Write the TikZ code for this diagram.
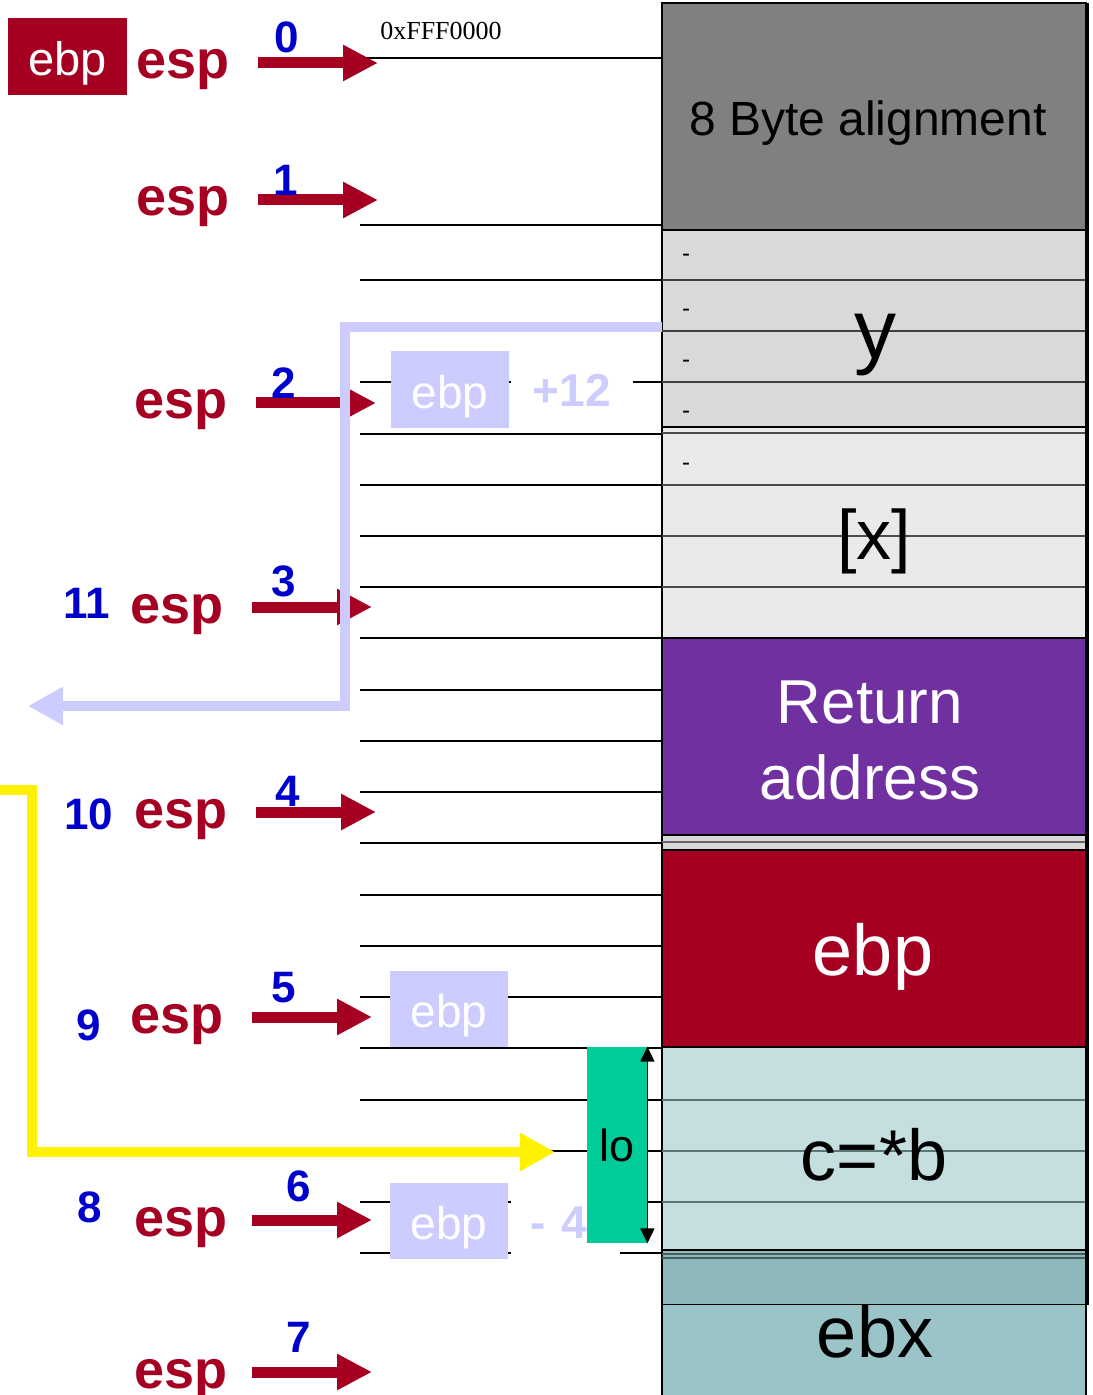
\documentclass[tikz,border=0pt]{standalone}
\usepackage{fontspec}
\setmainfont{Liberation Sans}
\newfontfamily\addrfont{Liberation Serif}
\usepackage{tikz}
\usetikzlibrary{arrows.meta}
\definecolor{espred}{HTML}{A50021}
\definecolor{numblue}{HTML}{0000CC}
\definecolor{lavender}{HTML}{CCCCFF}
\definecolor{aligngray}{HTML}{808080}
\definecolor{ygray}{HTML}{D9D9D9}
\definecolor{xgray}{HTML}{EAEAEA}
\definecolor{retpurple}{HTML}{7030A0}
\definecolor{cblue}{HTML}{C5DEE0}
\definecolor{cline}{HTML}{5A7676}
\definecolor{ebxtop}{HTML}{8FB8BC}
\definecolor{ebxblue}{HTML}{9BC4C8}
\definecolor{logreen}{HTML}{00CC99}
\newcommand{\fsz}[1]{\fontsize{#1}{#1}\selectfont}

\begin{document}
\begin{tikzpicture}[x=0.5pt,y=-0.5pt,
    esplabel/.style={font=\fsz{27}\bfseries,text=espred,anchor=base,inner sep=0pt},
    esparrow/.style={draw=espred,line width=5.5pt,-{Triangle[length=17.5pt,width=17pt]}},
    stepnum/.style={font=\fsz{22}\bfseries,text=numblue,inner sep=0pt},
    slotline/.style={line width=1pt},
    block/.style={draw=black,line width=1pt},
    lavbox/.style={fill=lavender,text=white,font=\fsz{23},minimum width=59pt,
                   minimum height=38pt,inner sep=0pt,text height=18.6pt,text depth=0pt},
    lavtext/.style={fill=white,text=lavender,font=\fsz{23}\bfseries,inner sep=0pt},
    bigtext/.style={font=\fsz{36},inner sep=0pt},
    widepath/.style={line width=5pt}]
                    \useasboundingbox (0,0) rectangle (1092,1395);
                    % slot lines left of the stack
                    \foreach \yy in {58,225,280,331,382,434,485,536,587,638,690,741,792,843,895,946,997,1048,1100,1151,1202,1253}
                        \draw[slotline] (360,\yy) -- (662,\yy);
                    \node[font=\addrfont\fsz{13},inner sep=0pt] (naddr) at (441,31) {0xFFF0000};
                    % 8 byte alignment
                    \draw[block,fill=aligngray] (662,3) rectangle (1086,230);
                    \node[font=\fsz{24},inner sep=0pt] (nalign) at (868,123) {8 Byte alignment};
                    % y
                    \draw[block,fill=ygray] (662,230) rectangle (1086,427);
                    \foreach \yy in {280,331,382}
                        \draw[draw=black!75,line width=1pt] (662,\yy) -- (1086,\yy);
                    \node[font=\fsz{42},inner sep=0pt] (nvary) at (875,345) {y};
                    % [x]
                    \draw[block,fill=xgray] (662,427) rectangle (1086,638);
                    \foreach \yy in {433,485,536,587}
                        \draw[draw=black!70,line width=1pt] (662,\yy) -- (1086,\yy);
                    \node[font=\fsz{35},inner sep=0pt] (nvarx) at (874,541) {[x]};
                    \foreach \yy in {253,308,359,410,462}
                        \node[font=\fsz{12},inner sep=0pt] (ndash\yy) at (686,\yy+5) {-};
                    % return address
                    \draw[block,fill=retpurple] (662,638) rectangle (1086,835);
                    \node[font=\fontsize{31}{38}\selectfont,text=white,align=center,inner sep=0pt] (nret) at (870,740) {Return\\address};
                    \draw[block,fill=ygray] (662,835) rectangle (1086,850);
                    \draw[draw=black!60,line width=1pt] (662,842) -- (1086,842);
                    % saved ebp
                    \draw[block,fill=espred] (662,850) rectangle (1086,1047);
                    \node[bigtext,text=white] (nsaved) at (873,957) {ebp};
                    % c=*b
                    \draw[block,fill=cblue] (662,1047) rectangle (1086,1250);
                    \foreach \yy in {1100,1151,1202}
                        \draw[draw=cline,line width=1pt] (662,\yy) -- (1086,\yy);
                    \node[bigtext] (nvarc) at (874,1155) {c=*b};
                    % ebx
                    \draw[block,fill=ebxtop] (662,1250) rectangle (1086,1305);
                    \foreach \yy in {1254,1258}
                        \draw[draw=cline!80!black,line width=1pt] (662,\yy) -- (1086,\yy);
                    \fill[ebxblue] (662,1305) rectangle (1086,1395);
                    \draw[line width=1pt] (662,1305) -- (662,1395) (1086,1305) -- (1086,1395);
                    \node[bigtext] (nebx) at (875,1332) {ebx};
                    \draw[line width=2pt] (1087,3) -- (1087,1305);
                    % ebp esp at the start
                    \node[fill=espred,text=white,font=\fsz{23.5},minimum width=59.5pt,minimum height=38.5pt,
                          inner sep=0pt,text height=19.4pt,text depth=0pt] (nebp) at (67.5,56.5) {ebp};
                    % esp rows with their arrows
                    \foreach \i/\xl/\yy/\xa in {0/183/63/258,1/183/200/258,2/181/403/256,3/177/607/252,
                                                4/181/812/256,5/177/1017/252,6/181/1220/252,7/181/1372/252} {
                        \node[esplabel] (nesp\i) at (\xl,\yy+16) {esp};
                        \coordinate (nfrom\i) at (\xa,\yy);
                        \coordinate (nto\i) at (\xa+120,\yy);
                        \draw[esparrow] (nfrom\i) -- (nto\i);
                    }
                    % step numbers
                    \foreach \i/\xx/\yy in {0/287/37,1/286/180,2/284/383,3/284/581,4/288/791,5/284/988,6/299/1186,7/299/1337}
                        \node[stepnum] (nstep\i) at (\xx,\yy) {\i};
                    \foreach \i/\xx/\yy in {11/87/603,10/89/814,9/89/1025,8/90/1207}
                        \node[stepnum] (nback\i) at (\xx,\yy) {\i};
                    % ebp+12 path
                    \coordinate (nlavfrom) at (662,327);
                    \coordinate (nlavbend) at (345,706);
                    \coordinate (nlavto) at (28,706);
                    \draw[widepath,draw=lavender,-{Triangle[length=17.5pt,width=18pt]}] (nlavfrom) -| (nlavbend) -- (nlavto);
                    \node[lavbox] (nebp1) at (450,389.5) {ebp};
                    \node[lavtext,minimum width=61pt,minimum height=26pt] (nplus) at (572,390.5) {+12};
                    % ebp-4 path
                    \coordinate (nylwfrom) at (0,790);
                    \coordinate (nylwbend) at (32,1152);
                    \coordinate (nylwto) at (555,1152);
                    \draw[widepath,draw=yellow,-{Triangle[length=17.5pt,width=18pt]}] (nylwfrom) -| (nylwbend) -- (nylwto);
                    \node[lavbox] (nebp2) at (449,1009) {ebp};
                    \node[lavbox] (nebp3) at (449,1221) {ebp};
                    \node[lavtext,text width=54.5pt,align=left,minimum height=34pt] (nminus) at (565,1223) {\hspace*{10pt}- 4};
                    % lo
                    \node[fill=logreen,font=\fsz{22.5},minimum width=30pt,minimum height=98pt,inner sep=0pt] (nlo) at (617,1145) {lo};
                    \draw[line width=0.8pt,{Triangle[length=7.5pt,width=7pt]}-{Triangle[length=7.5pt,width=7pt]}] (nlo.north east) -- (nlo.south east);
                \end{tikzpicture}
\end{document}
